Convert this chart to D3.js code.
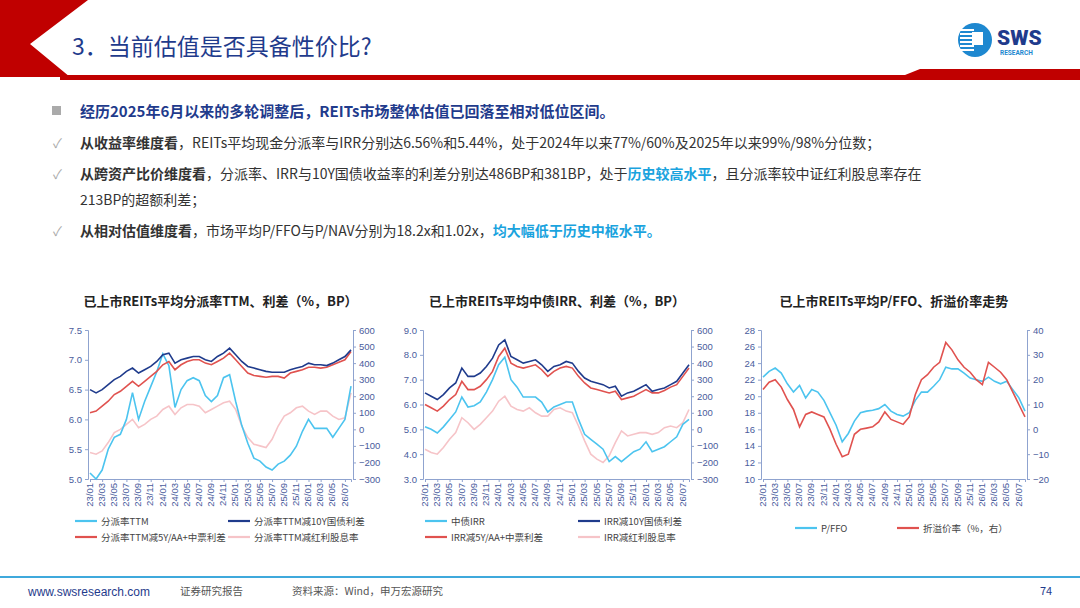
<!DOCTYPE html>
<html><head><meta charset="utf-8">
<script src="https://cdn.jsdelivr.net/npm/d3@7"></script>
<style>
body{margin:0;background:#fff;font-family:"Noto Sans CJK SC","Noto Sans",sans-serif}
svg{display:block}
</style></head>
<body><svg id="s" width="1080" height="608"></svg>
<script>
// monthly samples 23/01 .. 26/08
const months = [];
for (let y = 23; y <= 26; y++) for (let m = 1; m <= 12; m++) { if (y === 26 && m > 8) break; months.push(y + '/' + String(m).padStart(2, '0')); }
const tickMonths = months.filter((d, i) => i % 2 === 0 && d <= '26/07');

// chart 1
const payoutTTM = [5.1,5.0,5.15,5.5,5.7,5.75,6.0,6.45,6.0,6.3,6.55,6.8,7.1,6.9,6.2,6.5,6.65,6.7,6.65,6.4,6.3,6.4,6.7,6.75,6.3,5.9,5.6,5.35,5.3,5.2,5.15,5.25,5.3,5.4,5.55,5.8,6.0,5.85,5.85,5.85,5.7,5.85,6.0,6.56];
const payoutMinus10Y = [240,220,240,270,300,320,350,370,340,360,380,410,450,460,400,420,430,440,440,420,410,440,460,490,450,410,380,370,360,350,345,345,345,360,370,380,400,390,390,385,400,420,440,480];
const payoutMinusAA = [100,110,140,170,210,230,260,290,260,290,320,350,390,410,360,390,410,420,420,400,390,410,430,460,420,380,340,325,320,315,320,320,310,340,350,360,375,375,370,375,390,405,420,470];
const payoutMinusDiv = [-140,-150,-130,-80,-20,0,30,60,10,30,60,80,120,140,90,130,150,150,140,100,120,140,160,170,120,20,-50,-90,-100,-110,-60,20,80,100,130,140,110,90,110,110,80,60,70,220];
// chart 2
const irr = [5.1,5.0,4.85,5.1,5.4,5.7,6.3,5.9,5.95,6.1,6.5,7.0,7.6,7.9,7.0,6.7,6.3,6.3,6.3,6.1,5.7,5.9,6.0,6.1,6.1,5.4,4.8,4.6,4.4,4.2,3.7,3.9,3.7,3.9,4.1,4.2,4.5,4.1,4.2,4.3,4.5,4.7,5.2,5.4];
const irrMinus10Y = [220,200,180,210,250,280,370,320,320,340,380,430,510,540,440,420,400,410,420,390,350,380,390,410,400,350,310,290,280,270,250,260,200,220,230,250,270,230,240,250,270,290,340,390];
const irrMinusAA = [150,130,110,140,180,210,290,240,240,260,300,350,440,490,400,380,370,380,390,360,320,350,370,380,370,320,280,250,240,230,220,230,180,190,200,220,240,220,220,235,255,270,320,370];
const irrMinusDiv = [-120,-140,-150,-110,-60,-20,70,40,0,30,70,110,170,200,140,120,110,130,100,80,80,120,130,110,100,20,-70,-150,-180,-200,-160,-80,-10,-40,-30,-20,-20,-30,-20,10,20,10,40,120];
// chart 3
const pffo = [22.3,23.0,23.4,22.8,21.5,20.5,21.3,19.8,20.8,20.5,19.5,18.0,16.5,14.5,15.5,17.0,18.0,18.2,18.3,18.5,19.0,18.2,17.8,17.6,18.0,19.5,20.5,20.5,21.2,22.0,23.5,23.3,23.3,22.8,22.2,22.0,21.8,22.3,21.8,21.5,21.8,20.8,19.8,18.2];
const premium = [16,19,20,17,12,8,1,6,7,6,5,0,-6,-11,-10,-2,0,0.5,1,3,7,4,3,2,5,14,20,22,25,27,35,32,28,25,23,20,18,27,25,23,20,15,10,5];

const C = {lb:'#4cc4ef', nv:'#1f3b8c', rd:'#e0524f', pk:'#f6c4c8'};
const svg = d3.select('#s');

// ---------- header ----------
svg.append('path').attr('d','M0,0 L88,0 L30,44 L70,77 L0,77 Z').attr('fill','#c00000');
svg.append('rect').attr('x',60).attr('y',75).attr('width',1020).attr('height',5).attr('fill','#c00000');
svg.append('path').attr('d','M905,75 L920,69 L1080,69 L1080,75 Z').attr('fill','#c00000');
svg.append('text').attr('x',72).attr('y',55).attr('font-size',23).attr('fill','#1f3b8c').text('3．当前估值是否具备性价比?');
// logo
const lg = svg.append('g').attr('transform','translate(975,40)');
lg.append('circle').attr('r',17).attr('fill','#1e88d0');
for (let i=0;i<6;i++) lg.append('rect').attr('x',-15).attr('y',-11+i*4).attr('width',14).attr('height',2).attr('fill','#fff');
lg.append('rect').attr('x',-3).attr('y',-8).attr('width',11).attr('height',13).attr('fill','#fff');
svg.append('text').attr('x',997).attr('y',45).attr('font-family','Roboto').attr('font-weight',900).attr('font-size',21).attr('fill','#1f3b8c').text('SWS');
svg.append('text').attr('x',1000).attr('y',55).attr('font-family','Roboto').attr('font-weight',700).attr('font-size',6.5).attr('fill','#1e88d0').text('RESEARCH');

// ---------- bullets ----------
const tx = (y, parts, size) => {
  const t = svg.append('text').attr('x',80).attr('y',y).attr('font-size',size||14);
  parts.forEach(p => t.append('tspan').attr('fill',p[1]||'#333').attr('font-weight',p[2]?700:400).text(p[0]));
};
svg.append('rect').attr('x',52).attr('y',106).attr('width',9).attr('height',9).attr('fill','#aaa');
tx(117, [['经历2025年6月以来的多轮调整后，REITs市场整体估值已回落至相对低位区间。','#1f3b8c',1]], 15);
[148,179,236].forEach(y => svg.append('text').attr('x',53).attr('y',y).attr('font-size',13).attr('fill','#aaa').text('✓'));
tx(148, [['从收益率维度看','#333',1],['，REITs平均现金分派率与IRR分别达6.56%和5.44%，处于2024年以来77%/60%及2025年以来99%/98%分位数；']]);
tx(179, [['从跨资产比价维度看','#333',1],['，分派率、IRR与10Y国债收益率的利差分别达486BP和381BP，处于'],['历史较高水平','#1aa3de',1],['，且分派率较中证红利股息率存在']]);
tx(205, [['213BP的超额利差；']]);
tx(236, [['从相对估值维度看','#333',1],['，市场平均P/FFO与P/NAV分别为18.2x和1.02x，'],['均大幅低于历史中枢水平。','#1aa3de',1]]);

// ---------- charts ----------
function chart(o) {
  const g = svg.append('g');
  const x = d3.scalePoint().domain(months).range([o.x0 + 2, o.x1 - 2]);
  const yl = d3.scaleLinear().domain(o.ld).range([479, 330]);
  const yr = d3.scaleLinear().domain(o.rd).range([479, 330]);
  g.append('text').attr('x',(o.x0+o.x1)/2).attr('y',306).attr('text-anchor','middle')
    .attr('font-size',13).attr('font-weight',700).attr('fill','#222').text(o.title);
  const axL = g.append('g').attr('transform',`translate(${o.x0},0)`).call(d3.axisLeft(yl).tickValues(o.lt).tickFormat(o.lf).tickSize(3));
  const axR = g.append('g').attr('transform',`translate(${o.x1},0)`).call(d3.axisRight(yr).tickValues(o.rt).tickSize(3));
  const axB = g.append('g').attr('transform','translate(0,479)').call(d3.axisBottom(x).tickValues(tickMonths).tickSize(3));
  axB.selectAll('text').attr('transform','rotate(-90)').attr('text-anchor','end').attr('dx','-4').attr('dy','-0.4em');
  [axL,axR,axB].forEach(a => { a.selectAll('path,line').attr('stroke','#8fa3cf'); a.selectAll('text').attr('fill','#4a5c9c').attr('font-size',9.5).attr('font-family','Liberation Sans'); });
  o.series.forEach(s => {
    const y = s.r ? yr : yl;
    g.append('path').datum(s.v).attr('fill','none').attr('stroke',s.c).attr('stroke-width',1.6)
      .attr('d', d3.line().x((d,i)=>x(months[i])).y(d=>y(d)));
  });
  o.legend.forEach((l,i) => {
    const lx = o.lx[i%o.lx.length], ly = o.ly[Math.floor(i/o.lx.length)];
    g.append('line').attr('x1',lx).attr('x2',lx+22).attr('y1',ly).attr('y2',ly).attr('stroke',l.c).attr('stroke-width',2.2);
    g.append('text').attr('x',lx+26).attr('y',ly+3.5).attr('font-size',9.5).attr('fill','#444').text(l.t);
  });
}
const s1 = [{t:'分派率TTM',v:payoutTTM,c:C.lb},{t:'分派率TTM减10Y国债利差',v:payoutMinus10Y,c:C.nv,r:1},{t:'分派率TTM减5Y/AA+中票利差',v:payoutMinusAA,c:C.rd,r:1},{t:'分派率TTM减红利股息率',v:payoutMinusDiv,c:C.pk,r:1}];
chart({title:'已上市REITs平均分派率TTM、利差（%，BP）',x0:88,x1:353,ld:[5,7.5],lt:[5,5.5,6,6.5,7,7.5],lf:d3.format('.1f'),
  rd:[-300,600],rt:d3.range(-300,601,100),series:[s1[3],s1[0],s1[2],s1[1]],legend:s1,lx:[75,228],ly:[521,537]});
const s2 = [{t:'中债IRR',v:irr,c:C.lb},{t:'IRR减10Y国债利差',v:irrMinus10Y,c:C.nv,r:1},{t:'IRR减5Y/AA+中票利差',v:irrMinusAA,c:C.rd,r:1},{t:'IRR减红利股息率',v:irrMinusDiv,c:C.pk,r:1}];
chart({title:'已上市REITs平均中债IRR、利差（%，BP）',x0:423,x1:691,ld:[3,9],lt:d3.range(3,9.1,1),lf:d3.format('.1f'),
  rd:[-300,600],rt:d3.range(-300,601,100),series:[s2[3],s2[0],s2[2],s2[1]],legend:s2,lx:[425,578],ly:[521,537]});
const s3 = [{t:'P/FFO',v:pffo,c:C.lb},{t:'折溢价率（%，右）',v:premium,c:C.rd,r:1}];
chart({title:'已上市REITs平均P/FFO、折溢价率走势',x0:761,x1:1027,ld:[10,28],lt:d3.range(10,29,2),lf:d3.format('d'),
  rd:[-20,40],rt:d3.range(-20,41,10),series:[s3[0],s3[1]],legend:s3,lx:[795,897],ly:[528]});

// ---------- footer ----------
svg.append('rect').attr('x',0).attr('y',576).attr('width',1080).attr('height',2).attr('fill','#3fa9dc');
svg.append('text').attr('x',28).attr('y',596).attr('font-size',12).attr('fill','#1f3b8c').attr('font-family','Liberation Sans Narrow, Liberation Sans').text('www.swsresearch.com');
svg.append('text').attr('x',180).attr('y',595).attr('font-size',10.5).attr('fill','#555').text('证券研究报告');
svg.append('text').attr('x',292).attr('y',595).attr('font-size',10.5).attr('fill','#555').text('资料来源：Wind，申万宏源研究');
svg.append('text').attr('x',1040).attr('y',595).attr('font-size',11).attr('fill','#1f3b8c').text('74');
</script></body></html>
